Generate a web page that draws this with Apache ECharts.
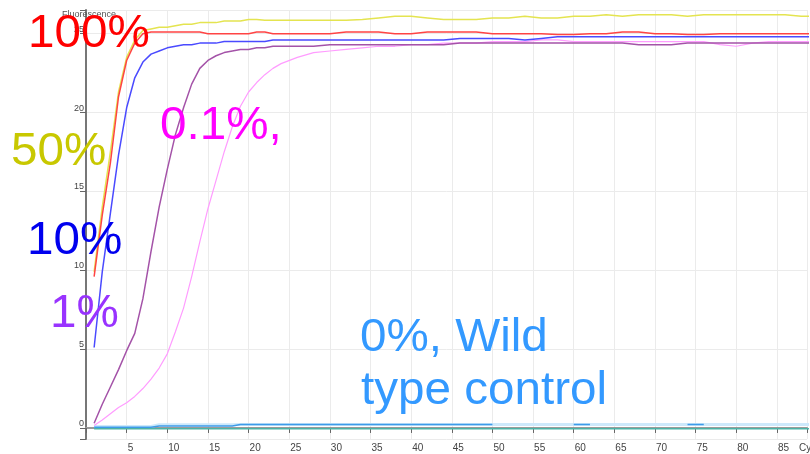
<!DOCTYPE html>
<html><head><meta charset="utf-8">
<script src="https://cdn.jsdelivr.net/npm/echarts@6/dist/echarts.min.js"></script>
<style>html,body{margin:0;padding:0;background:#fff}#c{width:810px;height:454px}</style>
</head><body><div id="c"></div>
<script>
// Cycle numbers (x values)
var cycles = [1,2,3,4,5,6,7,8,9,10,11,12,13,14,15,16,17,18,19,20,21,22,23,24,
  26,28,30,32,34,36,38,40,42,44,46,48,50,52,54,56,58,60,62,64,66,68,70,72,74,76,78,80,82,84,86,88,90];
// Fluorescence readings per dilution
var mut100 = [9.6,13.5,16.8,21.0,23.3,24.4,25.0,25.1,25.1,25.1,25.1,25.1,25.1,25.1,25.0,25.0,25.0,25.0,25.0,25.0,25.1,25.1,25.0,25.0,
  25.0,25.0,25.0,25.1,25.1,25.1,25.0,25.0,25.1,25.1,25.1,25.1,25.0,25.0,25.0,25.0,24.95,24.95,25.0,25.0,25.1,25.1,25.0,25.0,24.95,24.95,25.0,25.0,25.0,25.0,25.0,25.0,25.0];
var mut50 = [9.9,14.0,17.5,21.3,23.5,24.6,25.2,25.3,25.4,25.4,25.5,25.6,25.6,25.7,25.7,25.7,25.8,25.8,25.8,25.9,25.9,25.85,25.85,25.85,
  25.85,25.85,25.85,25.85,25.9,26.0,26.1,26.1,26.0,25.9,25.9,25.9,26.0,26.0,26.1,26.0,26.0,26.1,26.1,26.2,26.1,26.2,26.2,26.2,26.1,26.2,26.2,26.2,26.2,26.2,26.2,26.1,26.1];
var mut10 = [5.1,9.9,13.6,17.3,20.3,22.2,23.2,23.7,23.9,24.1,24.2,24.3,24.3,24.4,24.4,24.4,24.5,24.5,24.5,24.5,24.5,24.5,24.6,24.6,
  24.6,24.6,24.6,24.6,24.6,24.6,24.6,24.6,24.6,24.6,24.7,24.7,24.7,24.7,24.6,24.7,24.8,24.8,24.8,24.8,24.8,24.8,24.8,24.8,24.8,24.8,24.8,24.8,24.8,24.8,24.8,24.8,24.8];
var mut1 = [0.3,1.5,2.6,3.7,4.9,6.0,8.2,11.2,14.0,16.4,18.6,20.3,21.8,22.8,23.3,23.6,23.8,23.9,24.0,24.0,24.1,24.1,24.2,24.2,
  24.2,24.2,24.3,24.3,24.3,24.3,24.3,24.3,24.3,24.3,24.4,24.4,24.4,24.4,24.4,24.4,24.4,24.4,24.4,24.4,24.4,24.3,24.3,24.3,24.4,24.4,24.4,24.4,24.4,24.4,24.4,24.4,24.4];
var mut01 = [0.15,0.5,0.9,1.3,1.6,2.0,2.5,3.1,3.8,4.7,6.1,7.6,9.6,11.8,13.9,15.7,17.5,19.1,20.4,21.3,21.9,22.4,22.8,23.1,
  23.5,23.8,23.9,24.0,24.1,24.2,24.2,24.3,24.3,24.4,24.4,24.4,24.5,24.5,24.5,24.6,24.6,24.5,24.5,24.5,24.5,24.5,24.5,24.5,24.5,24.5,24.3,24.2,24.4,24.5,24.5,24.5,24.5];
var wildA = [0.05,0.05,0.05,0.05,0.05,0.05,0.05,0.05,0.13,0.13,0.13,0.13,0.13,0.13,0.13,0.13,0.13,0.13,0.22,0.22,0.22,0.22,0.22,0.22,
  0.22,0.22,0.22,0.22,0.22,0.22,0.22,0.22,0.22,0.22,0.22,0.22,0.22,null,null,null,null,0.22,0.22,null,null,null,null,null,0.22,0.22,null,null,null,null,null,null,null];
var wildB = [0.1,0.1,0.1,0.1,0.1,0.1,0.1,0.1,0.2,0.2,0.2,0.2,0.2,0.2,0.2,0.2,0.2,0.2,0.22,0.22,0.22,0.22,0.22,0.22,
  0.22,0.22,0.22,0.22,0.22,0.22,0.22,0.22,0.22,0.22,0.22,0.22,0.22,0.22,0.22,0.22,0.22,0.22,0.22,0.22,0.22,0.22,0.22,0.22,0.22,0.22,0.22,0.22,0.22,0.22,0.22,0.22,0.22];
var wildC = [-0.05,-0.05,-0.05,-0.05,-0.05,-0.05,-0.05,-0.05,-0.05,-0.05,-0.05,-0.05,-0.05,-0.05,-0.05,-0.05,-0.05,-0.05,-0.05,-0.05,-0.05,-0.05,-0.05,-0.05,
  -0.05,-0.05,-0.05,-0.05,-0.05,-0.05,-0.05,-0.05,-0.05,-0.05,-0.05,-0.05,-0.05,-0.05,-0.05,-0.05,-0.05,-0.05,-0.05,-0.05,-0.05,-0.05,-0.05,-0.05,-0.05,-0.05,-0.05,-0.05,-0.05,-0.05,-0.05,-0.05,-0.05];
// Labels
var labels = [
  {text:'100%', color:'#ff0000', x:28, y:34},
  {text:'50%', color:'#c8c800', x:11, y:152},
  {text:'10%', color:'#0000ee', x:27, y:241},
  {text:'1%', color:'#9933ff', x:50, y:314},
  {text:'0.1%,', color:'#ff00ff', x:160, y:126},
  {text:'0%, Wild', color:'#3399ff', x:360, y:338},
  {text:'type control', color:'#3399ff', x:361, y:391}
];
var yTitle = 'Fluorescence';
var xTitle = 'Cycles';

function pairs(arr){ return cycles.map(function(c,i){ return [c, arr[i]]; }); }
function ser(name, arr, color, width){
  return {name:name, type:'line', data:pairs(arr), symbol:'none', smooth:false, connectNulls:false,
    lineStyle:{color:color, width:width}, itemStyle:{color:color}, animation:false};
}
var chart = echarts.init(document.getElementById('c'), null, {renderer:'canvas'});
var graphics = labels.map(function(l){
  return {type:'text', x:l.x, y:l.y, scaleX:1.035, z:100, style:{text:l.text, fill:l.color, font:'46px "Liberation Sans", Arial, sans-serif', verticalAlign:'middle', align:'left'}};
});
graphics.push({type:'text', x:62, y:15, z:50, style:{text:yTitle, fill:'#555', font:'9px "Liberation Sans", Arial, sans-serif', verticalAlign:'middle'}});
graphics.push({type:'text', x:799, y:448, z:50, style:{text:xTitle, fill:'#444', font:'10px "Liberation Sans", Arial, sans-serif', verticalAlign:'middle'}});
chart.setOption({
  animation:false,
  backgroundColor:'#fff',
  grid:{left:86, right:0, top:10, bottom:15, containLabel:false},
  xAxis:{type:'value', min:0, max:88.7, minInterval:5, maxInterval:5,
    axisLine:{show:true, lineStyle:{color:'#9a9a9a', width:2}},
    axisTick:{show:true, length:5, lineStyle:{color:'#666', width:1}},
    axisLabel:{color:'#444', fontSize:10, fontFamily:'Liberation Sans', align:'left', margin:4, padding:[0,0,0,1],
      formatter:function(v){ return (v>0 && Math.abs(v%5)<1e-6) ? String(v) : ''; }},
    splitLine:{show:true, lineStyle:{color:'#ebebeb', width:1}}
  },
  yAxis:{type:'value', min:-0.7, max:26.5, minInterval:5, maxInterval:5,
    axisLine:{show:true, lineStyle:{color:'#777', width:2}},
    axisTick:{show:true, length:6, lineStyle:{color:'#666', width:1}},
    axisLabel:{color:'#444', fontSize:9, fontFamily:'Liberation Sans', margin:2, verticalAlign:'bottom',
      formatter:function(v){ return (Math.abs(v%5)<1e-6) ? String(v) : ''; }},
    splitLine:{show:true, lineStyle:{color:'#ebebeb', width:1}}
  },
  series:[
    ser('wt pale', wildB, '#cde9fb', 3),
    ser('wt teal', wildC, '#4db3a6', 1.5),
    ser('wt blue', wildA, '#3d9be9', 1.5),
    ser('0.1%', mut01, '#ff9cff', 1.2),
    ser('1%', mut1, '#a453a8', 1.5),
    ser('10%', mut10, '#4a4aff', 1.5),
    ser('50%', mut50, '#e4e450', 1.5),
    ser('100%', mut100, '#ff4444', 1.5)
  ],
  graphic:graphics
});
</script></body></html>
